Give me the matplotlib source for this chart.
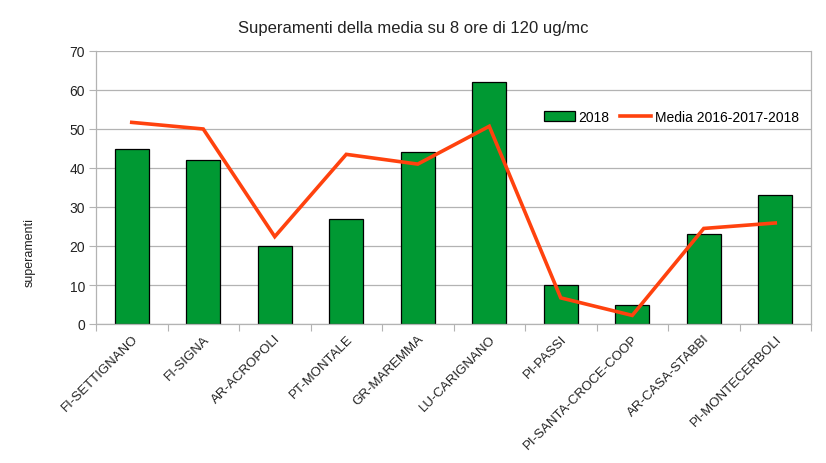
import matplotlib
matplotlib.use("Agg")
import matplotlib.pyplot as plt
import numpy as np

plt.rcParams['font.family'] = ['Liberation Sans', 'DejaVu Sans']

categories = ["FI-SETTIGNANO", "FI-SIGNA", "AR-ACROPOLI", "PT-MONTALE", "GR-MAREMMA",
              "LU-CARIGNANO", "PI-PASSI", "PI-SANTA-CROCE-COOP", "AR-CASA-STABBI", "PI-MONTECERBOLI"]
values_2018 = [45, 42, 20, 27, 44, 62, 10, 5, 23, 33]
media_2016_2018 = [51.7, 50.0, 22.4, 43.5, 41.0, 50.7, 6.7, 2.2, 24.5, 25.9]
yticks = [0, 10, 20, 30, 40, 50, 60, 70]

fig = plt.figure(figsize=(8.26, 4.64), dpi=100)
ax = fig.add_axes([96/826, 1-325/464, (811-96)/826, (325-52)/464])

x = np.arange(len(categories))
bars = ax.bar(x, values_2018, width=0.48, color='#009933', edgecolor='black', linewidth=0.9,
              label='2018', zorder=2)
line, = ax.plot(x, media_2016_2018, color='#ff420e', linewidth=2.6, label='Media 2016-2017-2018',
                zorder=3, solid_joinstyle='miter')

ax.set_xlim(-0.5, len(categories)-0.5)
ax.set_ylim(0, 70)
ax.set_yticks(yticks)
ax.yaxis.grid(True, color='#b3b3b3', linewidth=0.9, zorder=0)
ax.set_axisbelow(True)
for s in ax.spines.values():
    s.set_color('#b3b3b3')
    s.set_linewidth(0.9)
ax.spines['top'].set_visible(False)

ax.tick_params(axis='y', length=5, color='#b3b3b3', labelsize=10, pad=3, labelcolor='#222222')
ax.set_xticks(np.arange(len(categories)+1) - 0.5)
ax.set_xticklabels([])
ax.tick_params(axis='x', length=5, color='#b3b3b3')

for i, c in enumerate(categories):
    ax.annotate(c, xy=(i, 0), xycoords='data', xytext=(0, -6), textcoords='offset points',
                rotation=45, ha='right', va='top', rotation_mode='anchor',
                fontsize=9.5, color='#222222')

fig.text(30/826, 1-253/464, 'superamenti', rotation=90, ha='center', va='center',
         fontsize=9, color='#222222')
fig.text(413/826, 1-28/464, 'Superamenti della media su 8 ore di 120 ug/mc', ha='center',
         va='center', fontsize=12, color='#222222')

ax.legend(handles=[bars, line], loc='upper right', bbox_to_anchor=(1.0, 0.83), ncol=2,
          frameon=False, fontsize=10, handlelength=2.2, handleheight=0.7, columnspacing=0.8,
          handletextpad=0.25)

fig.savefig('out.png', dpi=100)
